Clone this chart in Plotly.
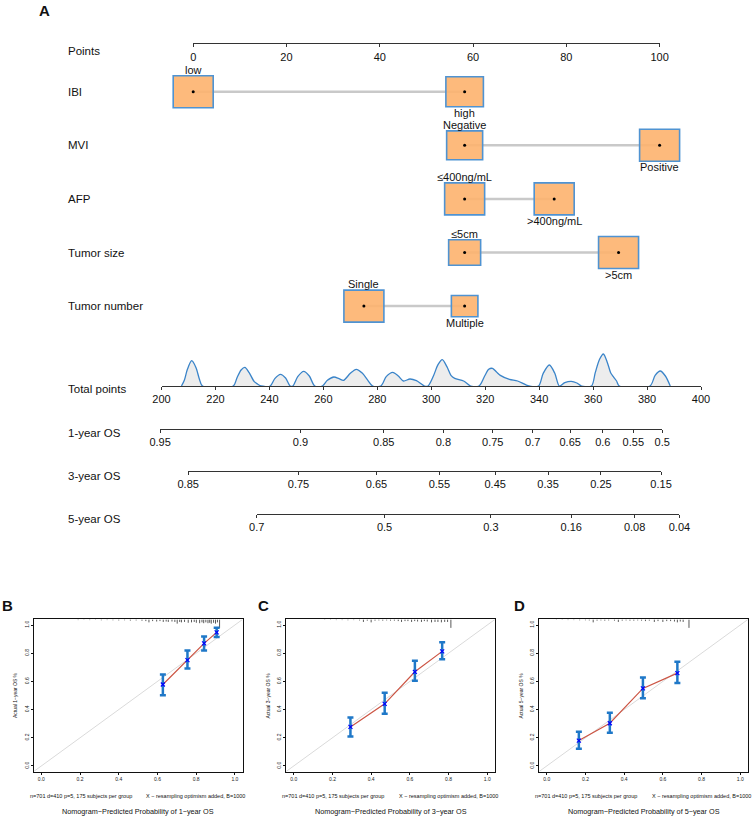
import plotly.graph_objects as go

W, H = 753, 819
FONT = "Liberation Sans, Arial, Helvetica, sans-serif"

# ---------------- panel A: nomogram data ----------------
variables = ["IBI", "MVI", "AFP", "Tumor size", "Tumor number"]
levels = [["low", "high"], ["Negative", "Positive"], ["≤400ng/mL", ">400ng/mL"],
          ["≤5cm", ">5cm"], ["Single", "Multiple"]]
level_points = [[0, 58.2], [58.2, 100], [58.2, 77.4], [58.2, 91.2], [36.6, 58.2]]
level_freq = [[1.0, 0.88], [0.81, 1.0], [1.0, 1.0], [0.64, 1.0], [1.0, 0.44]]

points_ticks = [0, 20, 40, 60, 80, 100]
total_ticks = [200, 220, 240, 260, 280, 300, 320, 340, 360, 380, 400]

# distribution of total points (curve)
density_tp = [207.4, 208.5, 209.6, 211.2, 212.8, 214.0, 215.2,
              226.6, 228.0, 229.5, 230.9, 232.5, 234.4, 235.6, 236.9,
              240.3, 242.0, 244.1, 246.0, 247.7,
              248.7, 250.5, 252.7, 254.8, 256.8,
              259.6, 261.5, 263.9, 265.8, 267.5, 270.0, 272.2, 274.5, 276.5, 278.3,
              281.3, 283.3, 285.7, 287.8, 289.7, 292.1, 294.5, 297.5,
              298.8, 300.8, 302.5, 304.1, 305.8, 307.3, 308.7, 312.0, 314.6,
              317.7, 319.8, 321.3, 322.7, 324.2, 325.6, 329.0, 332.0, 336.2,
              339.8, 341.5, 343.8, 345.8, 347.5, 349.5, 351.9, 354.0, 355.7,
              359.4, 360.8, 362.4, 363.8, 365.3, 366.5, 367.5, 368.7, 369.7,
              381.1, 383.0, 384.9, 386.8, 388.6]
density_h = [0, 18, 50, 76, 55, 22, 0,
             0, 25, 48, 56, 40, 13, 6, 0,
             0, 22, 35, 24, 0,
             0, 28, 44, 30, 0,
             0, 17, 27, 22, 17, 38, 50, 38, 17, 0,
             0, 28, 41, 30, 15, 21, 16, 0,
             0, 30, 64, 79, 58, 32, 23, 15, 0,
             0, 30, 50, 53, 42, 32, 20, 15, 0,
             0, 38, 63, 38, 0, 10, 14, 9, 0,
             0, 40, 80, 96, 70, 40, 28, 15, 0,
             0, 32, 45, 30, 0]

os_rows = ["1-year OS", "3-year OS", "5-year OS"]
os_labels = [["0.95", "0.9", "0.85", "0.8", "0.75", "0.7", "0.65", "0.6", "0.55", "0.5"],
             ["0.85", "0.75", "0.65", "0.55", "0.45", "0.35", "0.25", "0.15"],
             ["0.7", "0.5", "0.3", "0.16", "0.08", "0.04"]]
os_points = [[199.5, 251.5, 282.4, 304.5, 322.8, 337.6, 351.5, 363.6, 374.9, 385.6],
             [209.9, 250.8, 279.7, 303.0, 323.7, 343.3, 362.9, 385.2],
             [235.3, 282.7, 322.1, 351.9, 375.4, 392.0]]

# ---------------- panels B-D: calibration data ----------------
cal_letters = ["B", "C", "D"]
cal_years = ["1", "3", "5"]
cal_pred = [[0.628, 0.755, 0.841, 0.906],
            [0.293, 0.470, 0.626, 0.767],
            [0.166, 0.326, 0.497, 0.675]]
cal_obs = [[0.578, 0.751, 0.870, 0.948],
           [0.277, 0.441, 0.668, 0.813],
           [0.180, 0.303, 0.550, 0.659]]
cal_lo = [[0.502, 0.692, 0.820, 0.915],
          [0.209, 0.370, 0.604, 0.758],
          [0.123, 0.235, 0.481, 0.588]]
cal_hi = [[0.649, 0.820, 0.919, 0.981],
          [0.344, 0.519, 0.746, 0.877],
          [0.242, 0.377, 0.628, 0.739]]
# distribution of predicted probabilities (spikes along the top)
rug_x = [
    [0.19, 0.22, 0.25, 0.28, 0.31, 0.34, 0.37, 0.40, 0.43, 0.46, 0.49, 0.52, 0.54, 0.556,
     0.575, 0.596, 0.613, 0.63, 0.645, 0.656, 0.675, 0.69, 0.702, 0.715, 0.724, 0.74,
     0.759, 0.776, 0.79, 0.801, 0.818, 0.83, 0.839, 0.85, 0.861, 0.87, 0.878, 0.89,
     0.90, 0.91, 0.921],
    [0.16, 0.19, 0.22, 0.25, 0.28, 0.31, 0.34, 0.36, 0.38, 0.40, 0.42, 0.44, 0.46, 0.48,
     0.50, 0.52, 0.54, 0.557, 0.575, 0.59, 0.609, 0.625, 0.64, 0.66, 0.675, 0.69, 0.712,
     0.73, 0.745, 0.763, 0.78, 0.795, 0.812],
    [0.05, 0.08, 0.11, 0.14, 0.17, 0.20, 0.22, 0.24, 0.26, 0.28, 0.30, 0.32, 0.35, 0.37,
     0.39, 0.41, 0.43, 0.45, 0.47, 0.49, 0.51, 0.53, 0.556, 0.575, 0.60, 0.62, 0.64, 0.66,
     0.675, 0.69, 0.705, 0.735],
]
rug_n = [
    [.08, .06, .08, .06, .1, .08, .1, .12, .1, .14, .12, .16, .2, .35, .2, .25, .2, .3, .25,
     .3, .25, .3, .5, .3, .35, .3, .4, .35, .3, .4, .45, .35, .45, .35, .45, .4, .5, .4, .5,
     .35, 1.0],
    [.06, .06, .08, .08, .1, .08, .12, .3, .15, .35, .15, .12, .15, .12, .15, .15, .2, .3,
     .2, .2, .3, .2, .25, .3, .2, .25, .35, .3, .3, .35, .3, .3, 1.0],
    [.06, .06, .08, .08, .1, .1, .12, .35, .15, .12, .15, .12, .15, .3, .15, .12, .15, .15,
     .12, .15, .2, .15, .3, .2, .3, .2, .2, .25, .35, .25, .3, 1.0],
]

# ---------------- geometry (pixels of the 753x819 page) ----------------
PT0_PX, PT100_PX = 193.2, 659.6
TP200_PX, TP400_PX = 161.5, 701.0
ROW1_PX, ROW_STEP = 91.7, 53.6
POINTS_AXIS_PX = 43.3
TOTAL_AXIS_PX = 386.0
OS_AXIS_PX = [428.7, 471.0, 514.0]
CAL_LEFT = [33.6, 286.0, 539.0]
CAL_W = 209.0
CAL_TOP, CAL_BOTTOM = 619.4, 771.6
CAL_RANGE = [-0.04, 1.04]
LETTER_X = [8, 263, 519]

BOX_FILL = "rgba(253,178,110,0.9)"
BOX_EDGE = "#4F93D2"
CAL_BLUE = "#1F78C8"


def px_x(px):
    return px / W


def px_y(py):
    return 1 - py / H


def tp_px(tp):
    return TP200_PX + (tp - 200) * (TP400_PX - TP200_PX) / 200


def row_of(py):
    return 1 + (py - ROW1_PX) / ROW_STEP


fig = go.Figure()
shapes = []
ann = []


def text(x, y, s, size=11, xanchor="left", xref="paper", yref="paper", yshift=0, angle=0):
    ann.append(dict(x=x, y=y, xref=xref, yref=yref, text=s, showarrow=False,
                    xanchor=xanchor, yanchor="middle", yshift=yshift, textangle=angle,
                    font=dict(size=size, family=FONT, color="#111")))


hidden = dict(visible=False, fixedrange=True, automargin=False)
nomo_axis = dict(showline=True, linecolor="#333", linewidth=1, ticks="outside", ticklen=3,
                 tickwidth=1, tickcolor="#333", showgrid=False, zeroline=False,
                 tickfont=dict(size=11, family=FONT, color="#111"), fixedrange=True,
                 automargin=False)

pt_per_px = 100 / (PT100_PX - PT0_PX)
layout_axes = {
    "xaxis": dict(hidden, domain=[0, 1],
                  range=[-PT0_PX * pt_per_px, (W - PT0_PX) * pt_per_px]),
    "yaxis": dict(hidden, domain=[px_y(345), px_y(20)], range=[row_of(345), row_of(20)]),
    "xaxis2": dict(nomo_axis, domain=[px_x(PT0_PX), px_x(PT100_PX)], range=[0, 100],
                   tickvals=points_ticks, anchor="free", position=px_y(POINTS_AXIS_PX)),
    "yaxis2": dict(hidden, domain=[px_y(TOTAL_AXIS_PX), px_y(TOTAL_AXIS_PX - 110 / 3)],
                   range=[0, 110], anchor="x3"),
    "xaxis3": dict(nomo_axis, domain=[px_x(tp_px(200)), px_x(tp_px(400))], range=[200, 400],
                   tickvals=total_ticks, anchor="y2"),
}
fig.add_trace(go.Scatter(x=[0], y=[1], xaxis="x2", yaxis="y", mode="markers",
                         marker=dict(opacity=0), hoverinfo="skip"))

# label column
text(px_x(66), px_y(POINTS_AXIS_PX + 7.4), "Points", 11.5)
text(px_x(66), px_y(TOTAL_AXIS_PX + 3), "Total points", 11.5)
text(px_x(44), px_y(11), "<b>A</b>", 15, xanchor="center")

# predictor rows
for i, var in enumerate(variables):
    r = i + 1
    text(px_x(66), r, var, 11.5, yref="y")
    pts = level_points[i]
    shapes.append(dict(type="line", xref="x", yref="y", x0=min(pts), x1=max(pts), y0=r, y1=r,
                       line=dict(color="#C9C9C9", width=2.5), layer="below"))
    for j, (lab, p, f) in enumerate(zip(levels[i], pts, level_freq[i])):
        w = 40 * f ** 0.5
        h = 32 * f ** 0.5
        shapes.append(dict(type="rect", xref="x", yref="y", xsizemode="pixel",
                           ysizemode="pixel", xanchor=p, yanchor=r,
                           x0=-w / 2, x1=w / 2, y0=-h / 2, y1=h / 2,
                           fillcolor=BOX_FILL, line=dict(color=BOX_EDGE, width=1.6),
                           layer="below"))
        sh = h / 2 + 6
        text(p, r, lab, 11, xanchor="center", xref="x", yref="y",
             yshift=sh if j == 0 else -sh)
    fig.add_trace(go.Scatter(x=pts, y=[r, r], mode="markers", xaxis="x", yaxis="y",
                             marker=dict(color="black", size=3), hoverinfo="skip"))

# total points distribution
fig.add_trace(go.Scatter(x=density_tp, y=density_h, xaxis="x3", yaxis="y2", mode="lines",
                         line=dict(color="#3A84C9", width=1.3, shape="spline", smoothing=0.8),
                         fill="tozeroy", fillcolor="#EDEDED", hoverinfo="skip"))

# survival probability scales
for k, (name, labs, pts) in enumerate(zip(os_rows, os_labels, os_points)):
    ax = "xaxis%d" % (4 + k)
    layout_axes[ax] = dict(nomo_axis, domain=[px_x(tp_px(pts[0])), px_x(tp_px(pts[-1]))],
                           range=[pts[0], pts[-1]], tickvals=pts, ticktext=labs,
                           anchor="free", position=px_y(OS_AXIS_PX[k]))
    fig.add_trace(go.Scatter(x=[pts[0]], y=[0], xaxis="x%d" % (4 + k), yaxis="y2",
                             mode="markers", marker=dict(opacity=0), hoverinfo="skip"))
    text(px_x(66), px_y(OS_AXIS_PX[k] + 4.5), name, 11.5)

# calibration panels
cal_axis = dict(range=CAL_RANGE, showline=True, mirror=True, linecolor="#111", linewidth=1,
                ticks="outside", ticklen=2, tickwidth=0.8, tickcolor="#111",
                tickvals=[0, 0.2, 0.4, 0.6, 0.8, 1.0], tickformat=".1f",
                tickfont=dict(size=5, family=FONT, color="#222"),
                showgrid=False, zeroline=False, fixedrange=True, automargin=False)
for k in range(3):
    xa, ya = "x%d" % (7 + k), "y%d" % (3 + k)
    left = CAL_LEFT[k]
    right = left + CAL_W
    layout_axes["xaxis%d" % (7 + k)] = dict(cal_axis, domain=[px_x(left), px_x(right)],
                                            anchor=ya)
    layout_axes["yaxis%d" % (3 + k)] = dict(cal_axis, domain=[px_y(CAL_BOTTOM), px_y(CAL_TOP)],
                                            anchor=xa, tickangle=-90)
    fig.add_trace(go.Scatter(x=CAL_RANGE, y=CAL_RANGE, xaxis=xa, yaxis=ya, mode="lines",
                             line=dict(color="#DADADA", width=1), hoverinfo="skip"))
    rx, ry = [], []
    for p, n in zip(rug_x[k], rug_n[k]):
        rx += [p, p, None]
        ry += [CAL_RANGE[1], CAL_RANGE[1] - 0.06 * n, None]
    fig.add_trace(go.Scatter(x=rx, y=ry, xaxis=xa, yaxis=ya, mode="lines",
                             line=dict(color="#111", width=0.7), hoverinfo="skip"))
    fig.add_trace(go.Scatter(x=cal_pred[k], y=cal_obs[k], xaxis=xa, yaxis=ya, mode="lines",
                             line=dict(color="#CC5544", width=1.2), hoverinfo="skip"))
    fig.add_trace(go.Scatter(
        x=cal_pred[k], y=cal_obs[k], xaxis=xa, yaxis=ya, mode="markers",
        marker=dict(symbol="x-thin", size=4, color="#0000FF",
                    line=dict(color="#0000FF", width=1.2)),
        error_y=dict(type="data", symmetric=False,
                     array=[h - o for h, o in zip(cal_hi[k], cal_obs[k])],
                     arrayminus=[o - l for o, l in zip(cal_obs[k], cal_lo[k])],
                     color=CAL_BLUE, thickness=2.5, width=3),
        hoverinfo="skip"))

    yr = cal_years[k]
    mid_y = (CAL_TOP + CAL_BOTTOM) / 2
    text(px_x(LETTER_X[k]), px_y(605), "<b>%s</b>" % cal_letters[k], 15, xanchor="center")
    text(px_x(left - 19), px_y(mid_y), "Actual %s\u2212year OS %%" % yr, 5,
         xanchor="center", angle=-90)
    text(px_x(left - 6), px_y(796), "n=701 d=410 p=5, 175 subjects per group", 5.5)
    text(px_x(right + 4.5), px_y(796), "X \u2212 resampling optimism added, B=1000", 5.5,
         xanchor="right")
    text(px_x((left + right) / 2), px_y(811),
         "Nomogram\u2212Predicted Probability of %s\u2212year OS" % yr, 7.25, xanchor="center")

fig.update_layout(
    width=W, height=H, margin=dict(l=0, r=0, t=0, b=0, pad=0, autoexpand=False),
    paper_bgcolor="white", plot_bgcolor="rgba(0,0,0,0)",
    showlegend=False, font=dict(family=FONT, color="#111"),
    shapes=shapes, annotations=ann, **layout_axes,
)

# drop the page's default body margin so the figure fills the window exactly
fig.write_html("out.html", config={"displayModeBar": False},
               post_script="document.body.style.margin='0';document.body.style.overflow='hidden';")
